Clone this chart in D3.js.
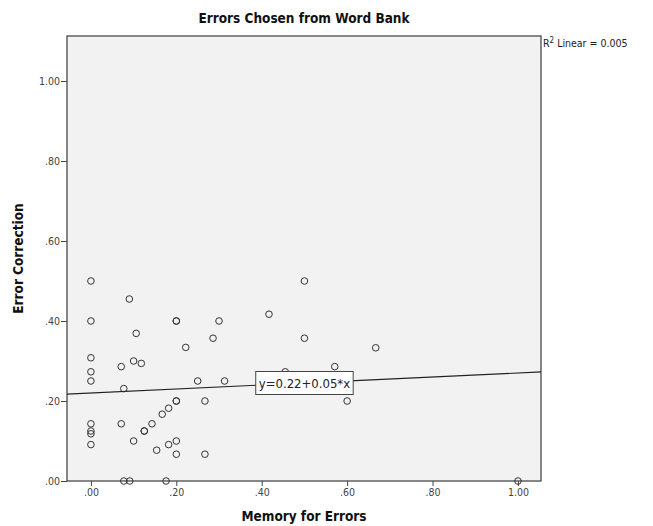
<!DOCTYPE html>
<html>
<head>
<meta charset="utf-8">
<script src="https://cdn.jsdelivr.net/npm/d3@7"></script>
<style>
  body { margin: 0; background: #fff; }
  text { font-family: "DejaVu Sans Condensed", "Liberation Sans Narrow", "Liberation Sans", sans-serif; }
</style>
</head>
<body>
<script>
// Memory for Errors (x) vs Error Correction (y)
var memory = [0, 0.09, 0, 0.20, 0.20, 0.106, 0.222, 0, 0.071, 0.10, 0.118, 0, 0,
              0.077, 0.20, 0.20, 0.182, 0.167, 0, 0.071, 0.143, 0, 0, 0.125, 0.125,
              0, 0.10, 0.154, 0.182, 0.20, 0.20, 0.077, 0.091, 0.176, 0.30, 0.417,
              0.286, 0.25, 0.313, 0.267, 0.267, 0.50, 0.50, 0.667, 0.571, 0.455, 0.60, 1.00];
var correction = [0.50, 0.455, 0.40, 0.40, 0.40, 0.369, 0.334, 0.308, 0.286, 0.30, 0.294, 0.273, 0.25,
                  0.231, 0.20, 0.20, 0.182, 0.167, 0.143, 0.143, 0.143, 0.125, 0.118, 0.125, 0.125,
                  0.091, 0.10, 0.077, 0.091, 0.10, 0.067, 0, 0, 0, 0.40, 0.417,
                  0.357, 0.25, 0.25, 0.20, 0.067, 0.50, 0.357, 0.333, 0.286, 0.273, 0.20, 0];
var xTicks = [0, 0.2, 0.4, 0.6, 0.8, 1.0];
var yTicks = [0, 0.2, 0.4, 0.6, 0.8, 1.0];
var intercept = 0.22, slope = 0.05;
var rsqText = "0.005";

var w = 653, h = 526;
var padL = 67, padR = 541, padT = 36, padB = 481; // plot frame edges

var svg = d3.select("body").append("svg")
    .attr("width", w)
    .attr("height", h);

var x = d3.scaleLinear().domain([-0.056, 1.054]).range([padL, padR]);
var y = d3.scaleLinear().domain([0, 1.1125]).range([padB, padT]);

// SPSS style ".20" labels
var fmt = function(d){ return d3.format(".2f")(d).replace(/^0\./, "."); };

// plot background + frame
svg.append("rect")
    .attr("x", padL).attr("y", padT)
    .attr("width", padR - padL).attr("height", padB - padT)
    .attr("fill", "#f2f2f2")
    .attr("stroke", "#4a4a4a")
    .attr("stroke-width", 1.3);

// axes
var xAxis = d3.axisBottom(x).tickValues(xTicks).tickFormat(fmt).tickSize(5).tickSizeOuter(0).tickPadding(3);
var yAxis = d3.axisLeft(y).tickValues(yTicks).tickFormat(fmt).tickSize(6).tickSizeOuter(0).tickPadding(1);

var gx = svg.append("g")
    .attr("transform", "translate(0," + padB + ")")
    .call(xAxis);
var gy = svg.append("g")
    .attr("transform", "translate(" + padL + ",0)")
    .call(yAxis);

[gx, gy].forEach(function(g){
    g.select(".domain").remove();
    g.selectAll("line").attr("stroke", "#444");
    g.selectAll("text").attr("fill", "#444").attr("font-size", "10.5px");
});

// fit line
var line = d3.line()
    .x(function(d){ return x(d); })
    .y(function(d){ return y(intercept + slope * d); });
svg.append("path")
    .datum(x.domain())
    .attr("d", line)
    .attr("fill", "none")
    .attr("stroke", "#222")
    .attr("stroke-width", 1.1);

// points
svg.selectAll("circle")
    .data(memory)
    .enter()
    .append("circle")
    .attr("cx", function(d){ return x(d); })
    .attr("cy", function(d, i){ return y(correction[i]); })
    .attr("r", 3.3)
    .attr("fill", "none")
    .attr("stroke", "#333")
    .attr("stroke-width", 1);

// equation label, centred at x = .50 on the line
var eqX = 0.5;
var eq = svg.append("g")
    .attr("transform", "translate(" + x(eqX) + "," + y(intercept + slope * eqX) + ")");
var eqText = eq.append("text")
    .attr("text-anchor", "middle")
    .attr("dy", "0.36em")
    .attr("font-size", "13px")
    .attr("fill", "#222")
    .text("y=" + intercept.toFixed(2) + "+" + slope.toFixed(2) + "*x");
var bb = eqText.node().getBBox();
eq.insert("rect", "text")
    .attr("x", bb.x - 3).attr("y", -11.5)
    .attr("width", bb.width + 6).attr("height", 23)
    .attr("fill", "#fff")
    .attr("stroke", "#444");

// R squared note
var r2 = svg.append("text")
    .attr("x", padR + 2)
    .attr("y", 47)
    .attr("font-size", "10.5px")
    .attr("fill", "#222");
r2.append("tspan").text("R");
r2.append("tspan").attr("dy", -4).attr("font-size", "8px").text("2");
r2.append("tspan").attr("dy", 4).text(" Linear = " + rsqText);

// titles
svg.append("text")
    .attr("x", (padL + padR) / 2)
    .attr("y", 23)
    .attr("text-anchor", "middle")
    .attr("font-size", "13.5px")
    .attr("font-weight", "bold")
    .attr("fill", "#111")
    .text("Errors Chosen from Word Bank");

svg.append("text")
    .attr("x", (padL + padR) / 2)
    .attr("y", 521)
    .attr("text-anchor", "middle")
    .attr("font-size", "13.5px")
    .attr("font-weight", "bold")
    .attr("fill", "#111")
    .text("Memory for Errors");

svg.append("text")
    .attr("transform", "translate(23," + ((padT + padB) / 2) + ") rotate(-90)")
    .attr("text-anchor", "middle")
    .attr("font-size", "13.5px")
    .attr("font-weight", "bold")
    .attr("fill", "#111")
    .text("Error Correction");
</script>
</body>
</html>
